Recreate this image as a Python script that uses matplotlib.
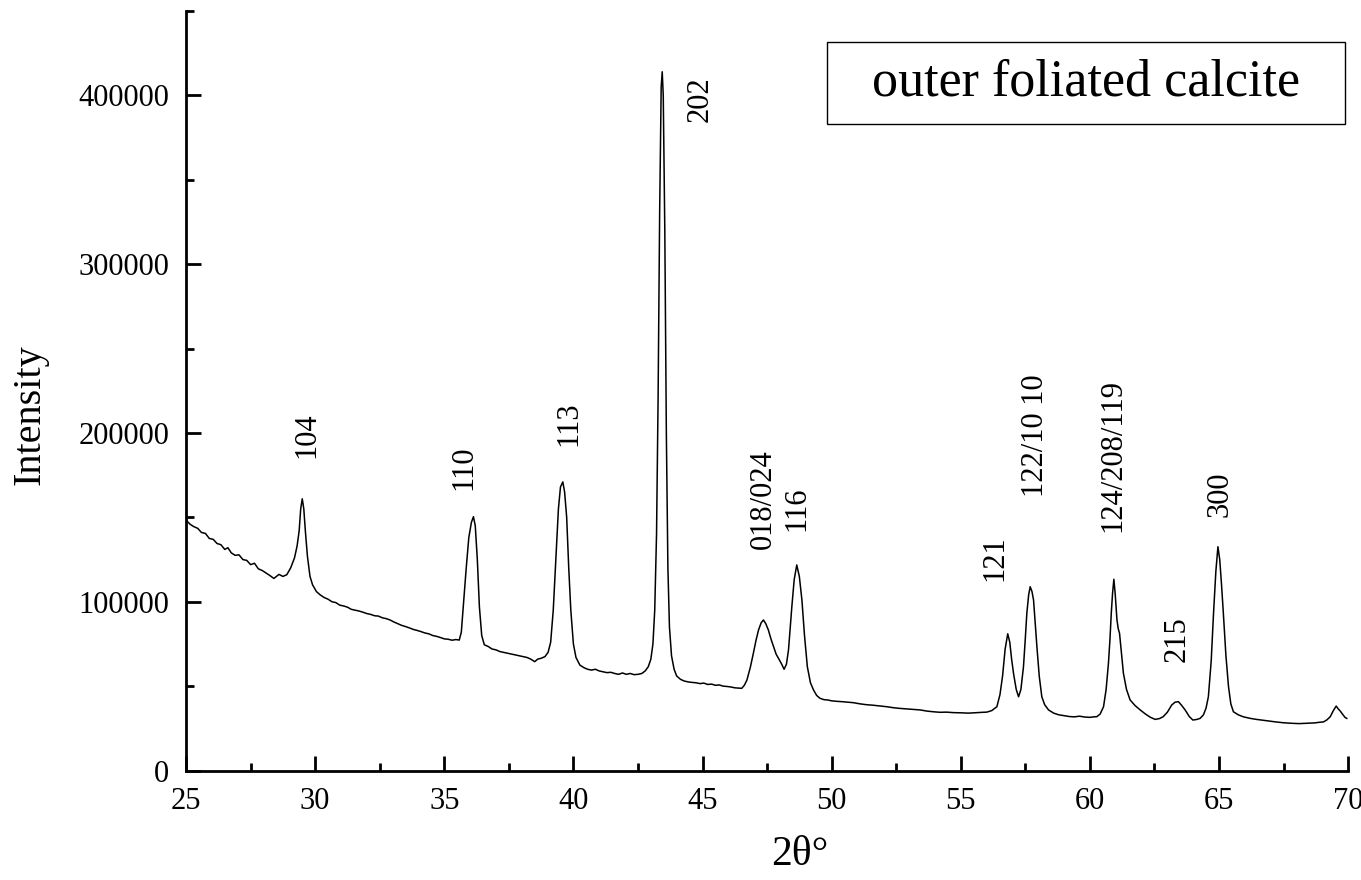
import matplotlib
matplotlib.use("Agg")
import matplotlib.pyplot as plt
from matplotlib.patches import Rectangle
from matplotlib.ticker import MultipleLocator

# --- XRD pattern (2-theta in degrees, intensity in counts) ---
two_theta = [
    25.00, 25.15, 25.30, 25.45, 25.60, 25.75, 25.90, 26.05, 26.20, 26.35,
    26.50, 26.62, 26.75, 26.90, 27.05, 27.20, 27.35, 27.50, 27.65, 27.80,
    27.95, 28.10, 28.25, 28.40, 28.50, 28.60, 28.75, 28.90, 29.05, 29.20,
    29.30, 29.38, 29.44, 29.50, 29.56, 29.62, 29.70, 29.80, 29.90, 30.05,
    30.20, 30.35, 30.50, 30.65, 30.80, 30.95, 31.10, 31.25, 31.40, 31.55,
    31.70, 31.85, 32.00, 32.15, 32.30, 32.45, 32.60, 32.75, 32.90, 33.05,
    33.20, 33.35, 33.50, 33.65, 33.80, 33.95, 34.10, 34.25, 34.40, 34.55,
    34.70, 34.85, 35.00, 35.15, 35.30, 35.45, 35.58, 35.66, 35.75, 35.85,
    35.95, 36.05, 36.13, 36.20, 36.28, 36.36, 36.45, 36.55, 36.70, 36.85,
    37.00, 37.15, 37.30, 37.45, 37.60, 37.75, 37.90, 38.05, 38.20, 38.35,
    38.50, 38.62, 38.75, 38.90, 39.02, 39.12, 39.22, 39.32, 39.42, 39.50,
    39.59, 39.66, 39.74, 39.82, 39.90, 40.00, 40.10, 40.25, 40.40, 40.55,
    40.70, 40.85, 41.00, 41.15, 41.30, 41.45, 41.60, 41.75, 41.90, 42.05,
    42.20, 42.35, 42.50, 42.65, 42.78, 42.90, 43.00, 43.08, 43.15, 43.22,
    43.28, 43.34, 43.40, 43.44, 43.48, 43.54, 43.60, 43.66, 43.72, 43.80,
    43.90, 44.00, 44.15, 44.30, 44.45, 44.60, 44.75, 44.90, 45.05, 45.20,
    45.35, 45.50, 45.65, 45.80, 45.95, 46.10, 46.25, 46.40, 46.52, 46.62,
    46.72, 46.85, 46.97, 47.07, 47.17, 47.27, 47.36, 47.45, 47.55, 47.65,
    47.75, 47.85, 47.94, 48.05, 48.16, 48.25, 48.33, 48.40, 48.46, 48.55,
    48.65, 48.75, 48.85, 48.95, 49.06, 49.18, 49.30, 49.42, 49.55, 49.70,
    49.85, 50.00, 50.20, 50.40, 50.60, 50.84, 51.10, 51.35, 51.60, 51.85,
    52.14, 52.40, 52.65, 52.90, 53.15, 53.43, 53.70, 53.95, 54.20, 54.45,
    54.72, 55.00, 55.30, 55.60, 55.85, 56.01, 56.20, 56.40, 56.52, 56.62,
    56.72, 56.82, 56.90, 56.97, 57.05, 57.15, 57.24, 57.33, 57.43, 57.50,
    57.56, 57.63, 57.69, 57.76, 57.82, 57.88, 57.95, 58.04, 58.14, 58.25,
    58.40, 58.60, 58.80, 59.00, 59.20, 59.40, 59.60, 59.80, 60.00, 60.15,
    60.27, 60.40, 60.53, 60.63, 60.72, 60.78, 60.83, 60.88, 60.93, 60.98,
    61.05, 61.10, 61.15, 61.22, 61.30, 61.42, 61.56, 61.75, 61.95, 62.15,
    62.35, 62.53, 62.70, 62.84, 63.00, 63.17, 63.30, 63.43, 63.56, 63.69,
    63.85, 63.99, 64.15, 64.27, 64.40, 64.50, 64.59, 64.70, 64.79, 64.88,
    64.96, 65.03, 65.10, 65.17, 65.27, 65.37, 65.46, 65.56, 65.75, 65.95,
    66.21, 66.45, 66.70, 66.95, 67.20, 67.50, 67.80, 68.10, 68.40, 68.70,
    68.90, 69.05, 69.18, 69.31, 69.43, 69.54, 69.62, 69.70, 69.78, 69.88,
    69.95,
]
intensity = [
    148400, 146000, 144500, 143500, 141000, 140500, 137500, 137000, 134500, 133800,
    131000, 132000, 129000, 127500, 127800, 125000, 124500, 122000, 122800, 119500,
    118500, 117000, 115500, 113800, 115000, 116200, 115000, 116000, 120000, 126000,
    133000, 142000, 155000, 161000, 155000, 142000, 127000, 115000, 110000, 106000,
    104000, 102500, 101500, 100000, 99500, 98000, 97500, 96800, 95500, 95000,
    94500, 93800, 93000, 92500, 91700, 91500, 90500, 90000, 89200, 88000,
    87000, 86000, 85300, 84500, 83600, 83000, 82300, 81500, 81000, 80000,
    79500, 78800, 78000, 77800, 77200, 77600, 77300, 82000, 100000, 120000,
    138000, 147000, 150400, 145000, 125000, 97000, 80000, 74500, 73500, 72000,
    71500, 70500, 70000, 69500, 69000, 68500, 68000, 67500, 67000, 66000,
    64500, 66000, 66500, 67500, 70000, 76000, 95000, 125000, 155000, 168000,
    171000, 165000, 150000, 120000, 95000, 75000, 67000, 62500, 61000, 60000,
    59500, 60000, 59000, 58500, 58000, 58200, 57500, 57000, 57800, 57000,
    57500, 56800, 57000, 57500, 59000, 61500, 66000, 75000, 95000, 140000,
    220000, 330000, 405000, 414000, 400000, 320000, 200000, 120000, 85000, 68000,
    60000, 56000, 54000, 53000, 52500, 52200, 52000, 51500, 51800, 51000,
    51200, 50500, 50700, 50000, 49800, 49500, 49000, 48800, 48700, 50500,
    53600, 61000, 69500, 77000, 83300, 87500, 89200, 87000, 83300, 78000,
    73400, 69000, 66500, 63500, 60000, 63000, 71400, 85000, 97100, 113000,
    121800, 115000, 101000, 80000, 61500, 52000, 47700, 44500, 42800, 42000,
    41800, 41300, 41000, 40800, 40500, 40200, 39500, 39000, 38700, 38300,
    37800, 37200, 36800, 36500, 36200, 35900, 35200, 34800, 34500, 34600,
    34300, 34200, 34000, 34300, 34500, 34600, 35500, 37800, 45000, 56000,
    72000, 81000, 76000, 66000, 57000, 48000, 43700, 48000, 61500, 78000,
    93200, 104000, 108900, 106000, 101000, 88000, 73400, 56000, 43700, 39000,
    35900, 34000, 33000, 32500, 32000, 31800, 32200, 31700, 31500, 31800,
    31900, 33500, 37800, 48000, 63500, 78000, 93200, 105000, 113300, 105000,
    89200, 84000, 81300, 70000, 57600, 48000, 41800, 38500, 35900, 33500,
    31500, 30300, 30800, 31900, 34500, 38800, 40500, 40800, 38500, 35900,
    32000, 29900, 30300, 30900, 33000, 37000, 43700, 65000, 93200, 118000,
    132600, 125000, 110000, 93200, 68000, 49700, 39500, 34800, 33000, 31800,
    30900, 30300, 29800, 29300, 28800, 28300, 28000, 27800, 28000, 28200,
    28600, 28800, 30000, 31900, 35500, 38200, 36500, 35200, 33500, 31500,
    30900,
]

# Miller indices of the calcite reflections and where their labels sit
peak_labels = ["104", "110", "113", "202", "018/024", "116", "121",
               "122/10 10", "124/208/119", "215", "300"]
label_x = [29.67, 35.74, 39.81, 44.91, 47.34, 48.65, 56.32, 57.88, 60.89, 63.37, 65.05]
label_y = [185000, 166000, 192000, 384000, 131000, 142000, 112000, 162000, 141500, 64500, 150000]

panel_title = "outer foliated calcite"

plt.rcParams['font.family'] = ['Liberation Serif', 'DejaVu Serif']

fig = plt.figure(figsize=(13.61, 8.80), dpi=100)
ax = fig.add_axes([0.1367, 0.1244, 0.8538, 0.8631])

ax.plot(two_theta, intensity, color='black', linewidth=1.1)

# peak labels, written vertically above each reflection
for txt, lx, ly in zip(peak_labels, label_x, label_y):
    ax.text(lx, ly, txt, rotation=90, ha='center', va='bottom', fontsize=22)

# boxed sample name in the top right corner
ax.add_patch(Rectangle((49.83, 383100), 20.06, 48600, fill=False,
                       edgecolor='black', linewidth=1.0))
ax.text(59.86, 407400, panel_title, ha='center', va='center', fontsize=37.5)

ax.set_xlim(25, 70)
ax.set_ylim(0, 450000)
ax.xaxis.set_major_locator(MultipleLocator(5))
ax.xaxis.set_minor_locator(MultipleLocator(2.5))
ax.yaxis.set_major_locator(MultipleLocator(100000))
ax.yaxis.set_minor_locator(MultipleLocator(50000))

for side in ['top', 'right']:
    ax.spines[side].set_visible(False)
for side in ['left', 'bottom']:
    ax.spines[side].set_linewidth(2.0)

ax.tick_params(which='major', direction='in', length=11, width=2.0,
               labelsize=22, pad=12)
ax.tick_params(which='minor', direction='in', length=5.5, width=2.0)

ax.set_xlabel("2θ°", fontsize=30)
ax.xaxis.label.set_va('center')
ax.xaxis.set_label_coords(0.528, -0.111)
ax.set_ylabel("Intensity", fontsize=29)
ax.yaxis.label.set_va('center')
ax.yaxis.set_label_coords(-0.134, 0.468)

fig.savefig("out.png", dpi=100)
